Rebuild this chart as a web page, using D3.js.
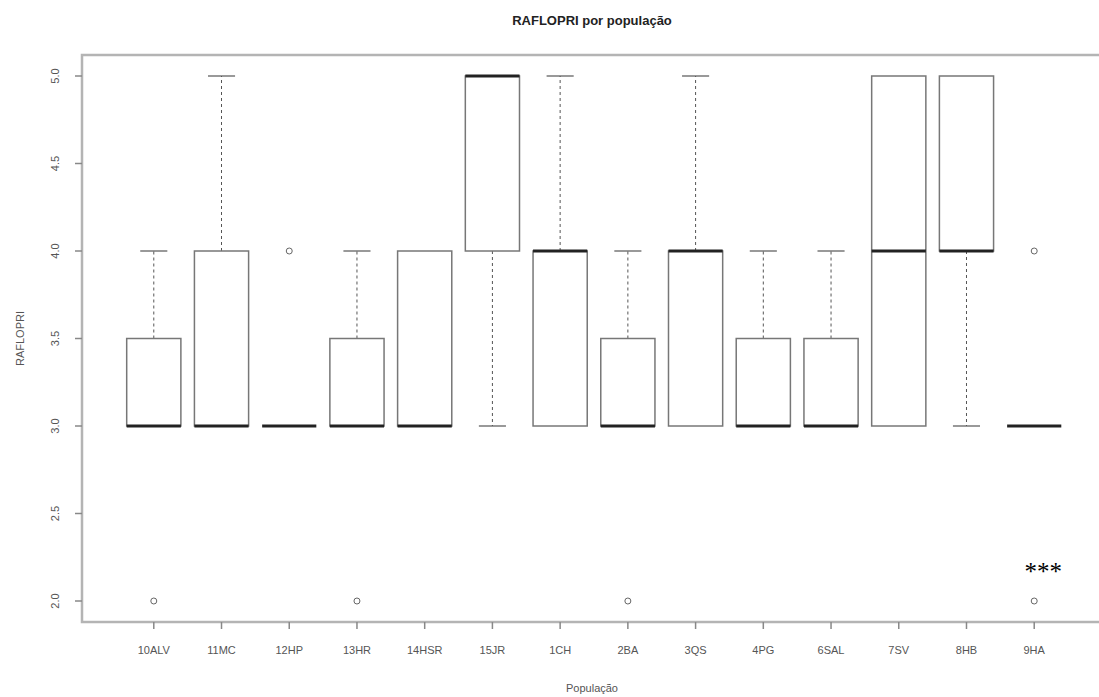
<!DOCTYPE html>
<html>
<head>
<meta charset="utf-8">
<script src="https://cdn.jsdelivr.net/npm/d3@7"></script>
<style>
  body { margin: 0; background: #fff; }
  svg { font-family: "Liberation Sans", Arial, sans-serif; }
</style>
</head>
<body>
<svg id="chart" width="1099" height="697"></svg>
<script>
var populations = ["10ALV", "11MC", "12HP", "13HR", "14HSR", "15JR", "1CH", "2BA", "3QS", "4PG", "6SAL", "7SV", "8HB", "9HA"]
var whiskerLow  = [3,   3, 3, 3,   3, 3, 3, 3,   3, 3,   3,   3, 3, 3]
var q1          = [3,   3, 3, 3,   3, 4, 3, 3,   3, 3,   3,   3, 4, 3]
var medians     = [3,   3, 3, 3,   3, 5, 4, 3,   4, 3,   3,   4, 4, 3]
var q3          = [3.5, 4, 3, 3.5, 4, 5, 4, 3.5, 4, 3.5, 3.5, 5, 5, 3]
var whiskerHigh = [4,   5, 3, 4,   4, 5, 5, 4,   5, 4,   4,   5, 5, 3]
var outliers    = [[2], [], [4], [2], [], [], [], [2], [], [], [], [], [], [4, 2]]
var yTicks = [2.0, 2.5, 3.0, 3.5, 4.0, 4.5, 5.0]

var svg = d3.select("svg#chart")

// plot region (R style, runs past the right edge of the picture)
var plotLeft = 82, plotRight = 1106, plotTop = 55, plotBottom = 622

var x = d3.scaleLinear().domain([-0.06, 15.06]).range([plotLeft, plotRight])
var y = d3.scaleLinear().domain([1.88, 5.12]).range([plotBottom, plotTop])
var step = x(2) - x(1)
var boxW = step * 0.8

var axisColor = "#b4b4b4", textColor = "#555", boxColor = "#777"

// frame
svg.append("rect")
    .attr("x", plotLeft).attr("y", plotTop)
    .attr("width", plotRight - plotLeft).attr("height", plotBottom - plotTop)
    .attr("fill", "none").attr("stroke", axisColor).attr("stroke-width", 2.5)

// title
svg.append("text")
    .attr("x", (plotLeft + plotRight) / 2 - 2).attr("y", 25)
    .attr("text-anchor", "middle")
    .style("font-size", "13px").style("font-weight", "bold").attr("fill", "#222")
    .text("RAFLOPRI por população")

// y axis ticks
yTicks.forEach(function(t) {
    svg.append("line")
        .attr("x1", plotLeft - 7).attr("x2", plotLeft)
        .attr("y1", y(t)).attr("y2", y(t))
        .attr("stroke", "#888").attr("stroke-width", 1.5)
    svg.append("text")
        .attr("transform", "translate(" + 59 + "," + y(t) + ") rotate(-90)")
        .attr("text-anchor", "middle")
        .style("font-size", "11px").attr("fill", textColor)
        .text(t.toFixed(1))
})

svg.append("text")
    .attr("transform", "translate(24," + ((plotTop + plotBottom) / 2) + ") rotate(-90)")
    .attr("text-anchor", "middle")
    .style("font-size", "11px").attr("fill", textColor)
    .text("RAFLOPRI")

// x axis ticks
populations.forEach(function(p, i) {
    var cx = x(i + 1)
    svg.append("line")
        .attr("x1", cx).attr("x2", cx)
        .attr("y1", plotBottom).attr("y2", plotBottom + 7)
        .attr("stroke", "#888").attr("stroke-width", 1.5)
    svg.append("text")
        .attr("x", cx).attr("y", 654)
        .attr("text-anchor", "middle")
        .style("font-size", "11px").attr("fill", textColor)
        .text(p)
})

svg.append("text")
    .attr("x", (plotLeft + plotRight) / 2 - 2).attr("y", 692)
    .attr("text-anchor", "middle")
    .style("font-size", "11px").attr("fill", textColor)
    .text("População")

// boxes
var g = svg.append("g")
populations.forEach(function(p, i) {
    var cx = x(i + 1)
    var b = g.append("g")

    // whiskers
    if (whiskerHigh[i] > q3[i]) {
        b.append("line")
            .attr("x1", cx).attr("x2", cx)
            .attr("y1", y(q3[i])).attr("y2", y(whiskerHigh[i]))
            .attr("stroke", "#555").attr("stroke-dasharray", "3,3")
        b.append("line")
            .attr("x1", cx - boxW / 4).attr("x2", cx + boxW / 4)
            .attr("y1", y(whiskerHigh[i])).attr("y2", y(whiskerHigh[i]))
            .attr("stroke", "#555").attr("stroke-width", 1.2)
    }
    if (whiskerLow[i] < q1[i]) {
        b.append("line")
            .attr("x1", cx).attr("x2", cx)
            .attr("y1", y(q1[i])).attr("y2", y(whiskerLow[i]))
            .attr("stroke", "#555").attr("stroke-dasharray", "3,3")
        b.append("line")
            .attr("x1", cx - boxW / 4).attr("x2", cx + boxW / 4)
            .attr("y1", y(whiskerLow[i])).attr("y2", y(whiskerLow[i]))
            .attr("stroke", "#555").attr("stroke-width", 1.2)
    }

    // box
    if (q3[i] > q1[i]) {
        b.append("rect")
            .attr("x", cx - boxW / 2).attr("y", y(q3[i]))
            .attr("width", boxW).attr("height", y(q1[i]) - y(q3[i]))
            .attr("fill", "none").attr("stroke", boxColor).attr("stroke-width", 1.5)
    }

    // median
    b.append("line")
        .attr("x1", cx - boxW / 2).attr("x2", cx + boxW / 2)
        .attr("y1", y(medians[i])).attr("y2", y(medians[i]))
        .attr("stroke", "#222").attr("stroke-width", 3)

    // outliers
    outliers[i].forEach(function(o) {
        b.append("circle")
            .attr("cx", cx).attr("cy", y(o)).attr("r", 3)
            .attr("fill", "none").attr("stroke", "#666").attr("stroke-width", 1)
    })
})

// significance mark
svg.append("text")
    .attr("x", x(14) + 9).attr("y", 580)
    .attr("text-anchor", "middle")
    .style("font-family", "'Liberation Serif', 'Times New Roman', serif")
    .style("font-size", "25px").attr("fill", "#000")
    .text("***")
</script>
</body>
</html>
